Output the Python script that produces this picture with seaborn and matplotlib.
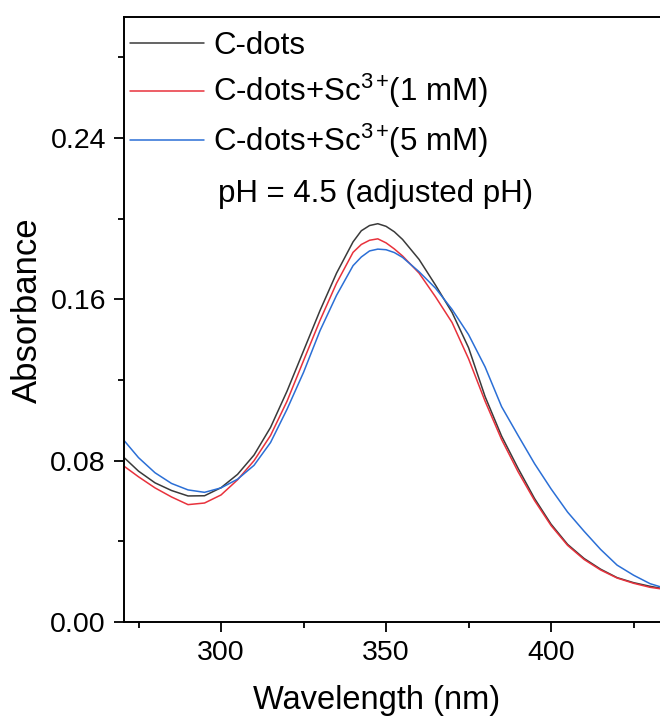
import numpy as np
import pandas as pd
import matplotlib
matplotlib.use("Agg")
import matplotlib.pyplot as plt
from matplotlib.ticker import MultipleLocator, FormatStrFormatter
import seaborn as sns

wavelength = [270, 275, 280, 285, 290, 295, 300, 305, 310, 315, 320, 325, 330,
              335, 340, 342.5, 345, 347.5, 350, 352.5, 355, 360, 365, 370, 375,
              380, 385, 390, 395, 400, 405, 410, 415, 420, 425, 430, 433]

cdots = [0.0825, 0.0748, 0.0690, 0.0652, 0.0625, 0.0626, 0.0666, 0.0732, 0.0828,
         0.0965, 0.1145, 0.1345, 0.1545, 0.1730, 0.1885, 0.1940, 0.1966, 0.1975,
         0.1962, 0.1935, 0.1897, 0.1798, 0.1670, 0.1535, 0.1360, 0.1118, 0.0922,
         0.0762, 0.0612, 0.0485, 0.0385, 0.0315, 0.0262, 0.0220, 0.0195, 0.0177,
         0.0168]

sc_1mM = [0.0780, 0.0720, 0.0665, 0.0620, 0.0582, 0.0590, 0.0630, 0.0705, 0.0800,
          0.0925, 0.1095, 0.1296, 0.1496, 0.1680, 0.1833, 0.1872, 0.1893, 0.1900,
          0.1880, 0.1850, 0.1815, 0.1730, 0.1612, 0.1485, 0.1305, 0.1095, 0.0905,
          0.0745, 0.0602, 0.0478, 0.0380, 0.0310, 0.0258, 0.0218, 0.0192, 0.0172,
          0.0165]

sc_5mM = [0.0912, 0.0815, 0.0740, 0.0687, 0.0655, 0.0643, 0.0665, 0.0708, 0.0777,
          0.0890, 0.1055, 0.1238, 0.1445, 0.1620, 0.1767, 0.1810, 0.1840, 0.1849,
          0.1846, 0.1832, 0.1808, 0.1737, 0.1655, 0.1550, 0.1425, 0.1265, 0.1068,
          0.0925, 0.0785, 0.0660, 0.0545, 0.0450, 0.0360, 0.0282, 0.0232, 0.0190,
          0.0175]

labels = ["C-dots",
          r"C-dots+Sc$^{\mathregular{3+}}\!$(1 mM)",
          r"C-dots+Sc$^{\mathregular{3+}}\!$(5 mM)"]
colors = ["#3a3a3a", "#e8323c", "#2b6fd6"]
y_ticks = [0.00, 0.08, 0.16, 0.24]
x_ticks = [300, 350, 400]

frames = []
for lab, vals in zip(labels, [cdots, sc_1mM, sc_5mM]):
    frames.append(pd.DataFrame({"Wavelength": wavelength, "Absorbance": vals, "series": lab}))
df = pd.concat(frames, ignore_index=True)

sns.set_style("ticks")
plt.rcParams["font.family"] = ["Liberation Sans", "DejaVu Sans"]
plt.rcParams["mathtext.fontset"] = "custom"
plt.rcParams["mathtext.rm"] = "Liberation Sans"
plt.rcParams["mathtext.it"] = "Liberation Sans:italic"
plt.rcParams["mathtext.bf"] = "Liberation Sans:bold"
plt.rcParams["text.color"] = "black"
plt.rcParams["axes.labelcolor"] = "black"
plt.rcParams["xtick.color"] = "black"
plt.rcParams["ytick.color"] = "black"

fig = plt.figure(figsize=(6.6, 7.2), dpi=100)
ax = fig.add_axes([124 / 660, 98 / 720, (660 - 124) / 660, (622 - 17) / 720])

sns.lineplot(data=df, x="Wavelength", y="Absorbance", hue="series",
             palette=dict(zip(labels, colors)), hue_order=labels,
             estimator=None, sort=True, linewidth=1.1, ax=ax)

ax.set_xlim(270.6, 433.0)
ax.set_ylim(0, 0.300)
ax.set_xticks(x_ticks)
ax.set_yticks(y_ticks)
ax.xaxis.set_minor_locator(MultipleLocator(25))
ax.yaxis.set_minor_locator(MultipleLocator(0.04))
ax.yaxis.set_major_formatter(FormatStrFormatter("%.2f"))

ax.tick_params(axis="both", which="major", direction="out", length=7, width=1.3,
               labelsize=20.5, colors="black", labelcolor="black", pad=6)
ax.tick_params(axis="both", which="minor", direction="out", length=4, width=1.3,
               colors="black")

for side in ["left", "bottom", "top"]:
    ax.spines[side].set_visible(True)
    ax.spines[side].set_linewidth(1.4)
    ax.spines[side].set_color("black")
ax.spines["right"].set_visible(False)

ax.set_xlabel("Wavelength (nm)", fontsize=23.5, va="center", color="black")
ax.xaxis.set_label_coords((377 - 124) / 536, -(700 - 622) / 605)
ax.set_ylabel("Absorbance", fontsize=25, va="center", color="black")
ax.yaxis.set_label_coords(-(124 - 27) / 536, (622 - 310) / 605)

leg = ax.legend(loc="upper left", bbox_to_anchor=(0.0, 1 - 8 / 605),
                frameon=False, fontsize=22.5, handlelength=2.35,
                handletextpad=0.3, labelspacing=0.35, borderaxespad=0.0,
                borderpad=0.2)
for line in leg.get_lines():
    line.set_linewidth(1.1)
for t in leg.get_texts():
    t.set_color("black")

ax.text(299.0, 0.212, "pH = 4.5 (adjusted pH)", fontsize=22.5,
        ha="left", va="center", color="black")

fig.savefig("out.png", dpi=100)
